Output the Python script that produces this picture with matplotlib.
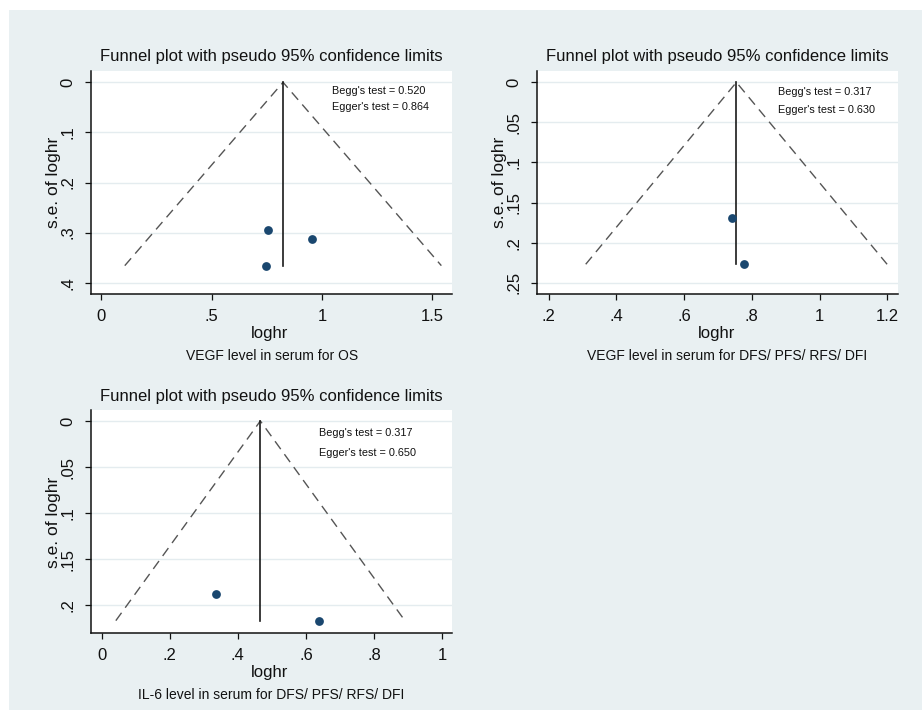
import numpy as np
import matplotlib
matplotlib.use("Agg")
import matplotlib.pyplot as plt
import matplotlib.ticker as ticker
from matplotlib.patches import Rectangle

plt.rcParams['font.family'] = ['Liberation Sans', 'DejaVu Sans']

# data
loghr_os = [0.757, 0.954, 0.747]
se_os = [0.295, 0.313, 0.366]
loghr_dfs = [0.742, 0.777]
se_dfs = [0.169, 0.227]
loghr_il6 = [0.336, 0.639]
se_il6 = [0.188, 0.2165]

captions = ["VEGF level in serum for OS",
            "VEGF level in serum for DFS/ PFS/ RFS/ DFI",
            "IL-6 level in serum for DFS/ PFS/ RFS/ DFI"]
begg = ["0.520", "0.317", "0.317"]
egger = ["0.864", "0.630", "0.650"]
xticks_list = [[0, 0.5, 1, 1.5],
               [0.2, 0.4, 0.6, 0.8, 1, 1.2],
               [0, 0.2, 0.4, 0.6, 0.8, 1]]
yticks_list = [[0, 0.1, 0.2, 0.3, 0.4],
               [0, 0.05, 0.1, 0.15, 0.2, 0.25],
               [0, 0.05, 0.1, 0.15, 0.2]]

W, H = 922, 710
BG = "#e9f0f2"
NAVY = "#1a476f"

fig = plt.figure(figsize=(W / 100, H / 100), dpi=100)
fig.patch.set_facecolor("white")
fig.patches.append(Rectangle((9 / W, 0), 1 - 9 / W, 1 - 10 / H,
                             transform=fig.transFigure, facecolor=BG,
                             edgecolor="none", zorder=-10))


def px(x, y):
    return x / W, 1 - y / H


def stata_fmt(v, pos):
    s = f"{v:g}"
    if s.startswith("0."):
        s = s[1:]
    return s


# layout per panel: plot box (left, top, right, bottom) px, limits, text spots
panels = [
    dict(x=loghr_os, se=se_os, box=(91, 71, 452, 294),
         xlim=(-0.047, 1.589), ylim=(0.4226, -0.0226),
         title=(271, 57), xlab=(270, 333), cap=(272, 356), ylab=(53, 182),
         note=(332, 91, 107)),
    dict(x=loghr_dfs, se=se_dfs, box=(537, 71, 898, 294),
         xlim=(0.1657, 1.2316), ylim=(0.2641, -0.0141),
         title=(717, 57), xlab=(717, 333), cap=(727, 356), ylab=(499, 182),
         note=(778, 92, 110)),
    dict(x=loghr_il6, se=se_il6, box=(91, 410, 452, 633),
         xlim=(-0.031, 1.029), ylim=(0.2299, -0.0119),
         title=(271, 396), xlab=(270, 673), cap=(271, 695), ylab=(53, 522),
         note=(319, 433, 453)),
]

for i, p in enumerate(panels):
    l, t, r, b = p["box"]
    ax = fig.add_axes([l / W, 1 - b / H, (r - l) / W, (b - t) / H])
    ax.set_facecolor("white")
    x = np.array(p["x"])
    se = np.array(p["se"])
    w = 1 / se ** 2
    est = np.sum(w * x) / np.sum(w)
    smax = se.max()

    ax.plot([est - 1.96 * smax, est, est + 1.96 * smax], [smax, 0, smax],
            color="#555555", lw=1.0, dashes=(7, 4.5), zorder=2)
    ax.plot([est, est], [0, smax], color="#1a1a1a", lw=1.2, zorder=2)
    ax.scatter(x, se, s=40, color=NAVY, zorder=3, linewidths=0)

    ax.set_xlim(*p["xlim"])
    ax.set_ylim(*p["ylim"])
    ax.set_xticks(xticks_list[i])
    ax.set_yticks(yticks_list[i])
    ax.xaxis.set_major_formatter(ticker.FuncFormatter(stata_fmt))
    ax.yaxis.set_major_formatter(ticker.FuncFormatter(stata_fmt))
    ax.grid(axis="y", color="#e4ecef", lw=1.0, zorder=0)
    ax.set_axisbelow(True)
    for side in ["top", "right"]:
        ax.spines[side].set_visible(False)
    for side in ["left", "bottom"]:
        ax.spines[side].set_color("#111111")
        ax.spines[side].set_linewidth(1.1)
    ax.tick_params(axis="both", direction="out", length=4.5, width=0.9,
                   color="#111111", labelsize=12, labelcolor="#111111")
    ax.tick_params(axis="x", pad=6)
    ax.tick_params(axis="y", pad=7, labelrotation=90)
    for lab in ax.get_yticklabels():
        lab.set_va("center")

    fig.text(*px(*p["title"]), "Funnel plot with pseudo 95% confidence limits",
             ha="center", va="center", fontsize=12, color="#111111")
    fig.text(*px(*p["xlab"]), "loghr", ha="center", va="center",
             fontsize=12, color="#111111")
    fig.text(*px(*p["cap"]), captions[i], ha="center", va="center",
             fontsize=10, color="#111111")
    fig.text(*px(*p["ylab"]), "s.e. of loghr", ha="center", va="center",
             rotation=90, fontsize=12.5, color="#111111")
    nx, ny1, ny2 = p["note"]
    fig.text(*px(nx, ny1), "Begg's test = " + begg[i], ha="left",
             va="center", fontsize=7.8, color="#111111")
    fig.text(*px(nx, ny2), "Egger's test = " + egger[i], ha="left",
             va="center", fontsize=7.8, color="#111111")

fig.savefig("out.png", dpi=100, facecolor=fig.get_facecolor())
